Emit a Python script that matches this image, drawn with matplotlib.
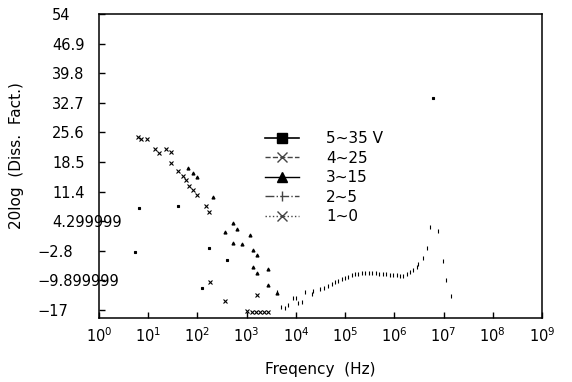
import numpy as np
import matplotlib
matplotlib.use("Agg")
import matplotlib.pyplot as plt
from matplotlib.lines import Line2D

# log10(frequency in Hz) and 20log(D)
# 5~35 V
s1_logf = [0.73, 0.81, 1.61, 2.09, 2.24, 2.60, 6.79]
s1_db = [-3.1, 7.5, 7.9, -11.7, -2.1, -5.0, 33.8]

# 4~25
s2_logf = [0.79, 0.85, 0.98, 1.14, 1.22, 1.36, 1.46, 1.46, 1.61, 1.71,
           1.77, 1.83, 1.91, 1.99, 2.18, 2.24]
s2_db = [24.5, 24.0, 24.0, 21.6, 20.7, 21.6, 20.9, 18.3, 16.3, 15.1,
         14.2, 12.7, 11.8, 10.6, 7.9, 6.5]

# 3~15
s3_logf = [1.81, 1.91, 1.99, 2.32, 2.56, 2.72, 2.81, 3.07, 2.91, 2.72,
           3.13, 3.21, 3.13, 3.21, 3.44, 3.44, 3.62]
s3_db = [17.1, 15.9, 14.9, 10.1, 1.7, 3.9, 2.4, 1.0, -1.2, -0.9,
         -2.6, -3.8, -6.7, -8.1, -7.2, -11.0, -12.9]

# 2~5
s4_logf = [3.62, 3.70, 3.78, 3.84, 3.94, 4.00, 4.05, 4.13, 4.19, 4.33,
           4.35, 4.49, 4.57, 4.65, 4.74, 4.80, 4.86, 4.94, 5.00, 5.06,
           5.14, 5.20, 5.26, 5.35, 5.41, 5.49, 5.55, 5.63, 5.69, 5.77,
           5.83, 5.92, 5.98, 6.06, 6.12, 6.18, 6.26, 6.32, 6.38, 6.46,
           6.48, 6.59, 6.67, 6.73, 6.89, 6.99, 7.05, 7.15]
s4_db = [-12.7, -16.3, -16.5, -15.8, -14.1, -14.1, -15.3, -15.1, -12.7, -13.2,
         -12.5, -12.0, -11.7, -11.3, -10.8, -10.3, -10.1, -9.6, -9.3, -9.1,
         -8.6, -8.4, -8.4, -8.1, -8.1, -8.1, -8.1, -8.1, -8.4, -8.4,
         -8.4, -8.6, -8.6, -8.6, -8.9, -8.9, -8.4, -7.9, -7.4, -6.7,
         -6.0, -4.5, -2.1, 2.9, 1.9, -5.3, -9.8, -13.7]

# 1~0
s5_logf = [2.26, 2.56, 3.21, 3.01, 3.11, 3.19, 3.27, 3.35, 3.44]
s5_db = [-10.3, -14.9, -13.4, -17.3, -17.5, -17.5, -17.5, -17.5, -17.5]

labels = ["5~35 V", "4~25", "3~15", "2~5", "1~0"]
ytick_vals = [54, 46.9, 39.8, 32.7, 25.6, 18.5, 11.4, 4.299999, -2.8, -9.899999, -17]
ytick_text = ["54", "46.9", "39.8", "32.7", "25.6", "18.5", "11.4",
              "4.299999", "\u22122.8", "\u22129.899999", "\u221217"]

fig = plt.figure(figsize=(5.72, 3.82), dpi=100)
ax = fig.add_axes([99 / 572, 1 - 318 / 382, 443 / 572, 304 / 382])

series = [(s1_logf, s1_db, "s", 1.8),
          (s2_logf, s2_db, "x", 2.2),
          (s3_logf, s3_db, "^", 2.2),
          (s4_logf, s4_db, "|", 3.5),
          (s5_logf, s5_db, "x", 2.2)]
for lf, db, m, ms in series:
    ax.plot(10 ** np.array(lf), db, linestyle="none", marker=m, ms=ms,
            mew=0.8, color="black")

ax.set_xscale("log")
ax.set_xlim(1, 1e9)
ax.set_ylim(-18.9, 54)
ax.set_xticks([10.0 ** k for k in range(10)])
ax.minorticks_off()
ax.set_yticks(ytick_vals)
ax.set_yticklabels(ytick_text)
ax.tick_params(direction="in", length=4, width=1, labelsize=10.5, colors="black")
ax.tick_params(axis="x", pad=6)
for sp in ax.spines.values():
    sp.set_linewidth(1.1)

# positive labels start where the digits of the negative ones start
for tick, v in zip(ax.yaxis.get_major_ticks(), ytick_vals):
    tick.label1.set_horizontalalignment("left")
    tick.set_pad(44.6 if v < 0 else 33.8)

ax.set_xlabel("Freqency  (Hz)", fontsize=11, labelpad=12)
ax.set_ylabel("20log  (Diss.  Fact.)", fontsize=11)
ax.yaxis.set_label_coords(-0.169, 0.533)

handles = [
    Line2D([], [], color="black", lw=1.2, ls="-", marker="s", ms=7),
    Line2D([], [], color="#444444", lw=1.0, ls="--", marker="x", ms=7),
    Line2D([], [], color="black", lw=1.0, ls="-", marker="^", ms=7),
    Line2D([], [], color="#444444", lw=1.0, ls="-.", marker="|", ms=7),
    Line2D([], [], color="#444444", lw=1.0, ls=":", marker="x", ms=7),
]
ax.legend(handles, labels, loc="upper left", bbox_to_anchor=(0.375, 0.615),
          frameon=False, fontsize=11, borderpad=0, borderaxespad=0,
          handlelength=2.2, handletextpad=1.8, labelspacing=0.3, numpoints=1)

fig.savefig("out.png", dpi=100)
